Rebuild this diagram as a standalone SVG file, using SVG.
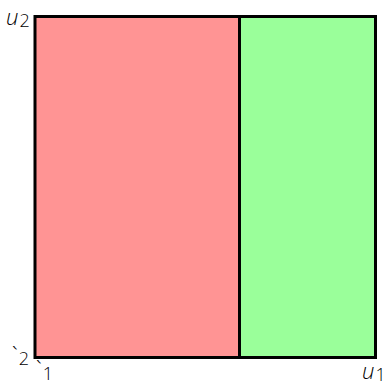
<svg xmlns="http://www.w3.org/2000/svg" width="386" height="386" viewBox="0 0 386 386">
<style>
.lbl{font-family:"Open Sans","DejaVu Sans",sans-serif;font-weight:300;font-size:22px;fill:#000}
.it{font-style:italic}
.sub{font-size:18px}
.reg{stroke:#000;stroke-width:3}
</style>
<rect width="386" height="386" fill="#fff"/>
<g id="region-red"><rect class="reg" x="35" y="16.5" width="204.5" height="341" fill="#ff9494"/></g>
<g id="region-green"><rect class="reg" x="239.5" y="16.5" width="136" height="341" fill="#9aff9a"/></g>
<g id="label-u2"><text class="lbl" x="6" y="25"><tspan class="it">u</tspan><tspan class="sub" dx="1" dy="2">2</tspan></text></g>
<g id="label-l2"><text class="lbl" x="12" y="363">`<tspan class="sub" dx="1" dy="2">2</tspan></text></g>
<g id="label-l1"><text class="lbl" x="36" y="377">`<tspan class="sub" dx="1" dy="3">1</tspan></text></g>
<g id="label-u1"><text class="lbl" x="362" y="379"><tspan class="it">u</tspan><tspan class="sub" dx="1" dy="2">1</tspan></text></g>
</svg>
